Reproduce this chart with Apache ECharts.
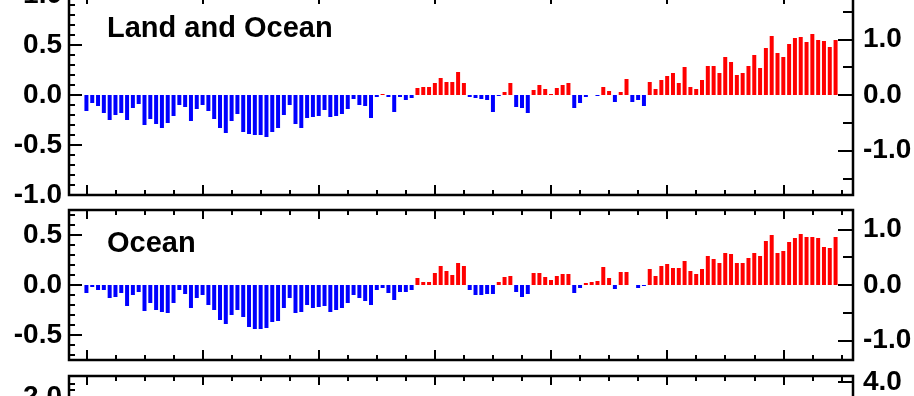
<!DOCTYPE html>
<html>
<head>
<meta charset="utf-8">
<script src="https://cdn.jsdelivr.net/npm/echarts@6/dist/echarts.min.js"></script>
<style>
  html, body { margin: 0; padding: 0; background: #fff; }
  #chart { width: 914px; height: 396px; }
</style>
</head>
<body>
<div id="chart"></div>
<script>
// annual anomalies (deg C), 1880 onwards
const startYear = 1880;

const landOcean = [
  -0.16, -0.08, -0.11, -0.18, -0.25, -0.20, -0.18, -0.25, -0.13, -0.09,
  -0.30, -0.24, -0.29, -0.33, -0.28, -0.21, -0.10, -0.12, -0.26, -0.14,
  -0.10, -0.16, -0.24, -0.33, -0.38, -0.26, -0.19, -0.37, -0.39, -0.40,
  -0.40, -0.42, -0.37, -0.33, -0.20, -0.10, -0.29, -0.33, -0.23, -0.22,
  -0.21, -0.15, -0.22, -0.21, -0.19, -0.14, -0.04, -0.10, -0.11, -0.23,
  -0.02, 0.01, -0.02, -0.17, -0.02, -0.05, -0.03, 0.07, 0.08, 0.08,
  0.12, 0.17, 0.13, 0.13, 0.23, 0.12, -0.02, -0.03, -0.04, -0.05,
  -0.17, -0.01, 0.03, 0.12, -0.12, -0.13, -0.18, 0.05, 0.10, 0.06,
  0.01, 0.07, 0.10, 0.12, -0.13, -0.08, -0.02, 0.00, -0.01, 0.08,
  0.04, -0.07, 0.03, 0.16, -0.07, -0.05, -0.11, 0.13, 0.06, 0.15,
  0.19, 0.22, 0.12, 0.28, 0.08, 0.06, 0.15, 0.29, 0.29, 0.22,
  0.38, 0.33, 0.20, 0.22, 0.29, 0.40, 0.27, 0.47, 0.59, 0.42,
  0.38, 0.51, 0.57, 0.58, 0.53, 0.61, 0.55, 0.54, 0.48, 0.55
];

const ocean = [
  -0.08, -0.02, -0.05, -0.05, -0.13, -0.12, -0.08, -0.21, -0.10, -0.07,
  -0.26, -0.18, -0.25, -0.27, -0.28, -0.18, -0.05, -0.09, -0.23, -0.13,
  -0.10, -0.20, -0.25, -0.35, -0.39, -0.30, -0.25, -0.32, -0.42, -0.44,
  -0.44, -0.43, -0.37, -0.36, -0.23, -0.13, -0.28, -0.27, -0.20, -0.23,
  -0.22, -0.21, -0.27, -0.25, -0.23, -0.18, -0.10, -0.13, -0.16, -0.20,
  -0.05, -0.03, -0.08, -0.15, -0.07, -0.07, -0.05, 0.07, 0.03, 0.03,
  0.12, 0.19, 0.14, 0.10, 0.22, 0.19, -0.05, -0.10, -0.10, -0.09,
  -0.09, 0.03, 0.08, 0.09, -0.07, -0.12, -0.09, 0.12, 0.12, 0.08,
  0.05, 0.09, 0.11, 0.11, -0.08, -0.03, 0.02, 0.03, 0.04, 0.18,
  0.07, -0.04, 0.13, 0.13, 0.00, -0.03, -0.01, 0.16, 0.09, 0.19,
  0.21, 0.17, 0.17, 0.24, 0.14, 0.11, 0.16, 0.29, 0.26, 0.22,
  0.32, 0.31, 0.22, 0.22, 0.27, 0.32, 0.29, 0.44, 0.50, 0.32,
  0.34, 0.43, 0.47, 0.51, 0.48, 0.48, 0.47, 0.38, 0.37, 0.48
];

// x ticks (years)
const majorYears = [1880, 1900, 1920, 1940, 1960, 1980, 2000];
const minorYears = [1885, 1890, 1895, 1905, 1910, 1915, 1925, 1930, 1935,
  1945, 1950, 1955, 1965, 1970, 1975, 1985, 1990, 1995, 2005, 2010];

// panels: title, C range, C ticks, F ticks
const panels = [
  { title: 'Land and Ocean', top: -5, height: 200, cMax: 1.0,
    cMajor: [-1.0, -0.5, 0, 0.5, 1.0],
    cMinor: [-0.9, -0.8, -0.7, -0.6, -0.4, -0.3, -0.2, -0.1, 0.1, 0.2, 0.3, 0.4, 0.6, 0.7, 0.8, 0.9],
    fMajor: [-1, 0, 1], fMinor: [-1.5, -0.5, 0.5, 1.5], data: landOcean },
  { title: 'Ocean', top: 210, height: 150, cMax: 0.75,
    cMajor: [-0.5, 0, 0.5],
    cMinor: [-0.7, -0.6, -0.4, -0.3, -0.2, -0.1, 0.1, 0.2, 0.3, 0.4, 0.6, 0.7],
    fMajor: [-1, 0, 1], fMinor: [-0.5, 0.5], data: ocean },
  { title: '', top: 376, height: 312, cMax: 2.31,
    cMajor: [-2, -1, 0, 1, 2],
    cMinor: [2.2, 2.1, 1.9, 1.8, 1.7, 1.6, 1.5, 1.4, 1.3, 1.2, 1.1],
    fMajor: [-4, -2, 0, 2, 4], fMinor: [3, 1, -1, -3], data: null }
];

const FONT = 'Liberation Sans';
const tickLine = { color: '#000', width: 2 };
const labelStyle = { color: '#000', fontSize: 28, fontWeight: 'bold', fontFamily: FONT };

const grids = [], xAxes = [], yAxes = [], series = [], titles = [];

function xAx(g, pos, vals, len) {
  return {
    type: 'value', gridIndex: g, min: 1877, max: 2012, position: pos,
    axisLine: { show: false, onZero: false },
    axisTick: { show: true, inside: true, length: len, customValues: vals, lineStyle: tickLine },
    axisLabel: { show: false }, splitLine: { show: false }
  };
}

function yAx(g, pos, mx, vals, len, withLabels, margin) {
  return {
    type: 'value', gridIndex: g, min: -mx, max: mx, position: pos,
    axisLine: { show: false, onZero: false },
    axisTick: { show: true, inside: true, length: len, customValues: vals, lineStyle: tickLine },
    axisLabel: withLabels ? Object.assign({
      show: true, customValues: vals, margin: margin,
      formatter: v => v.toFixed(1)
    }, labelStyle) : { show: false },
    splitLine: { show: false }
  };
}

panels.forEach((p, g) => {
  grids.push({ left: 69, right: 61, top: p.top, height: p.height, show: true,
    containLabel: false, outerBoundsMode: 'none',
    borderColor: '#000', borderWidth: 2.5, backgroundColor: 'transparent' });
  xAxes.push(xAx(g, 'bottom', majorYears, 10));
  xAxes.push(xAx(g, 'bottom', minorYears, 5));
  xAxes.push(xAx(g, 'top', majorYears, 9));
  xAxes.push(xAx(g, 'top', minorYears, 5));
  const fMax = +(p.cMax * 1.8).toFixed(3);
  yAxes.push(yAx(g, 'left', p.cMax, p.cMajor, 13, true, 7));
  yAxes.push(yAx(g, 'left', p.cMax, p.cMinor, 6, false));
  yAxes.push(yAx(g, 'right', fMax, p.fMajor, 15, true, 10));
  yAxes.push(yAx(g, 'right', fMax, p.fMinor, 10, false));
  if (p.data) {
    series.push({
      type: 'bar', xAxisIndex: g * 4, yAxisIndex: g * 4, barWidth: 4,
      data: p.data.map((v, i) => [startYear + i, v]),
      itemStyle: { color: q => q.value[1] >= 0 ? '#ff0000' : '#0000ff' }
    });
  }
  if (p.title) {
    titles.push({ text: p.title, left: 107, top: p.top + 19, padding: 0,
      textStyle: { color: '#000', fontSize: 29, fontWeight: 'bold', fontFamily: FONT } });
  }
});

const chart = echarts.init(document.getElementById('chart'));
chart.setOption({
  animation: false,
  backgroundColor: '#fff',
  title: titles,
  grid: grids,
  xAxis: xAxes,
  yAxis: yAxes,
  series: series
});
</script>
</body>
</html>
